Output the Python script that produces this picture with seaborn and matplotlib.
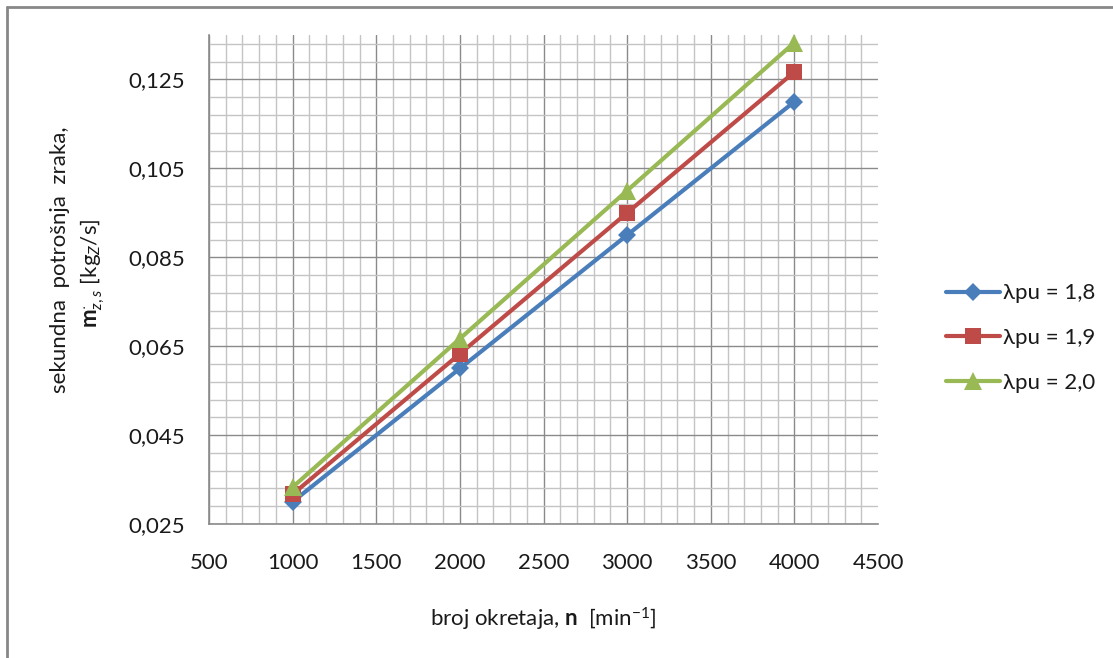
import numpy as np
import pandas as pd
import seaborn as sns
import matplotlib.pyplot as plt
from matplotlib.lines import Line2D

sns.set_style("white")
plt.rcParams['font.family'] = ['Lato', 'DejaVu Sans']
plt.rcParams['mathtext.fontset'] = 'custom'
plt.rcParams['mathtext.rm'] = 'Lato'
plt.rcParams['mathtext.it'] = 'Lato:italic'
plt.rcParams['mathtext.bf'] = 'Lato:bold'

# podaci ocitani sa slike
broj_okretaja = [1000, 2000, 3000, 4000]
lam_18 = [0.0300, 0.0600, 0.0900, 0.1200]
lam_19 = [0.0317, 0.0633, 0.0950, 0.1267]
lam_20 = [0.0333, 0.0667, 0.1000, 0.1333]
oznake = ["λpu = 1,8", "λpu = 1,9", "λpu = 2,0"]

x_ticks = [500, 1000, 1500, 2000, 2500, 3000, 3500, 4000, 4500]
y_ticks = [0.025, 0.045, 0.065, 0.085, 0.105, 0.125]
y_tick_labels = ["0,025", "0,045", "0,065", "0,085", "0,105", "0,125"]

df = pd.DataFrame({
    "n": broj_okretaja * 3,
    "m": lam_18 + lam_19 + lam_20,
    "serija": [oznake[0]] * 4 + [oznake[1]] * 4 + [oznake[2]] * 4,
})

boje = ["#4A7EBB", "#BE4B48", "#98B954"]
markeri = {"λpu = 1,8": "D", "λpu = 1,9": "s", "λpu = 2,0": "^"}
vel = {"λpu = 1,8": 11, "λpu = 1,9": 13.5, "λpu = 2,0": 15}

fs = 16

fig = plt.figure(figsize=(11.13, 6.58), dpi=100)
ax = fig.add_axes([0.1878, 0.2036, 0.6011, 0.7432])

# mreza
ax.set_xticks(x_ticks)
ax.set_xticks(np.arange(600, 4500, 100), minor=True)
ax.set_yticks(y_ticks)
ax.set_yticks(np.arange(0.029, 0.1345, 0.004), minor=True)
ax.grid(which='minor', color='#c4c4c4', lw=1.0, zorder=0)
ax.grid(which='major', color='#8a8a8a', lw=1.0, zorder=0)
ax.get_xgridlines()[-1].set_visible(False)
ax.set_axisbelow(True)

for i, s in enumerate(oznake):
    d = df[df["serija"] == s]
    sns.lineplot(data=d, x="n", y="m", ax=ax, color=boje[i], lw=3.0,
                 marker=markeri[s], markersize=vel[s], markeredgewidth=0,
                 label=s, zorder=3, clip_on=False)

ax.set_xlim(500, 4500)
ax.set_ylim(0.025, 0.135)
ax.set_yticklabels(y_tick_labels)
ax.set_xticklabels([str(v) for v in x_ticks])
ax.tick_params(which='major', length=6.5, width=1, color='#8a8a8a',
               labelsize=fs, labelcolor='#1a1a1a', direction='out')
ax.tick_params(axis='y', pad=11)
ax.tick_params(axis='x', pad=14)
ax.tick_params(which='minor', length=0)
for sp in ['top', 'right']:
    ax.spines[sp].set_visible(False)
for sp in ['left', 'bottom']:
    ax.spines[sp].set_color('#8a8a8a')
    ax.spines[sp].set_linewidth(1.2)

ax.set_xlabel(r"broj okretaja, $\mathbf{n}$  [min$^{-1}$]", fontsize=fs,
              color='#1a1a1a', labelpad=24)
ax.set_ylabel("")

# naslov y osi u dva reda
fig.text(60 / 1113, 1 - 260 / 658, "sekundna  potrošnja  zraka,", rotation=90,
         ha='center', va='center', fontsize=fs, color='#1a1a1a')
fig.text(93 / 1113, 1 - 273 / 658, r"$\mathbf{m}^{\mathbf{\cdot}}_{z,s}$ [kg$_Z$/s]",
         rotation=90, ha='center', va='center', fontsize=fs, color='#1a1a1a')

ax.legend_.remove()
h, l = ax.get_legend_handles_labels()
for hh in h:
    hh.set_markersize(hh.get_markersize() * 0.85)
fig.legend(h, l, loc='center left', bbox_to_anchor=(0.840, 0.486), frameon=False,
           fontsize=fs, handlelength=2.45, handletextpad=0.1, labelspacing=1.12,
           borderpad=0, labelcolor='#1a1a1a')

# okvir slike (gornji i lijevi rub)
fig.add_artist(Line2D([0.0063, 1.0], [0.989, 0.989], transform=fig.transFigure,
                      color='#888888', lw=2))
fig.add_artist(Line2D([0.0063, 0.0063], [0.0, 0.989], transform=fig.transFigure,
                      color='#888888', lw=2))

fig.savefig("out.png", dpi=100)
